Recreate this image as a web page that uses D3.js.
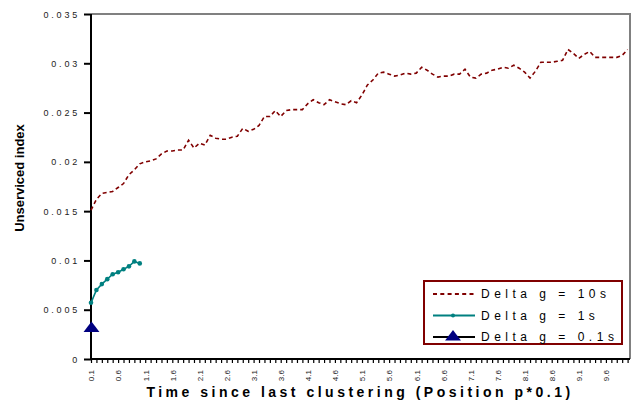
<!DOCTYPE html>
<html>
<head>
<meta charset="utf-8">
<script src="https://cdn.jsdelivr.net/npm/d3@7/dist/d3.min.js"></script>
<style>
  html, body { margin: 0; padding: 0; background: #fff; }
  svg { display: block; font-family: "Liberation Sans", Arial, sans-serif; }
</style>
</head>
<body>
<svg id="chart" width="634" height="406"></svg>
<script>
// Elapsed time since last clustering (position p*0.1)
const categories = [
  "0.1","0.2","0.3","0.4","0.5","0.6","0.7","0.8","0.9","1.0",
  "1.1","1.2","1.3","1.4","1.5","1.6","1.7","1.8","1.9","2.0",
  "2.1","2.2","2.3","2.4","2.5","2.6","2.7","2.8","2.9","3.0",
  "3.1","3.2","3.3","3.4","3.5","3.6","3.7","3.8","3.9","4.0",
  "4.1","4.2","4.3","4.4","4.5","4.6","4.7","4.8","4.9","5.0",
  "5.1","5.2","5.3","5.4","5.5","5.6","5.7","5.8","5.9","6.0",
  "6.1","6.2","6.3","6.4","6.5","6.6","6.7","6.8","6.9","7.0",
  "7.1","7.2","7.3","7.4","7.5","7.6","7.7","7.8","7.9","8.0",
  "8.1","8.2","8.3","8.4","8.5","8.6","8.7","8.8","8.9","9.0",
  "9.1","9.2","9.3","9.4","9.5","9.6","9.7","9.8","9.9","10.0"
];

// Unserviced index, Delta g = 10s
const delta10s = [
  0.0151,0.0162,0.0168,0.0169,0.0170,0.0174,0.0178,0.0187,0.0192,0.0198,
  0.0200,0.0201,0.0203,0.0208,0.0211,0.0211,0.0212,0.0212,0.0222,0.0214,
  0.0219,0.0217,0.0227,0.0224,0.0223,0.0223,0.0225,0.0226,0.0234,0.0231,
  0.0233,0.0237,0.0246,0.0246,0.0252,0.0246,0.0252,0.0253,0.0253,0.0253,
  0.0259,0.0263,0.0260,0.0258,0.0263,0.0261,0.0259,0.0258,0.0262,0.0260,
  0.0268,0.0278,0.0283,0.0290,0.0291,0.0289,0.0287,0.0288,0.0290,0.0289,
  0.0290,0.0296,0.0293,0.0289,0.0286,0.0287,0.0287,0.0289,0.0289,0.0294,
  0.0286,0.0285,0.0289,0.0290,0.0293,0.0294,0.0296,0.0295,0.0298,0.0295,
  0.0291,0.0285,0.0292,0.0301,0.0301,0.0301,0.0302,0.0303,0.0314,0.0310,
  0.0305,0.0309,0.0312,0.0306,0.0306,0.0306,0.0306,0.0306,0.0308,0.0314
];

// Unserviced index, Delta g = 1s
const delta1s = [0.0057,0.0070,0.0076,0.0081,0.0086,0.0088,0.0091,0.0094,0.0099,0.0097];

// Unserviced index, Delta g = 0.1s
const delta01s = [0.0031];

const yTicks = [0, 0.005, 0.01, 0.015, 0.02, 0.025, 0.03, 0.035];
const yTickLabels = ["0", "0.005", "0.01", "0.015", "0.02", "0.025", "0.03", "0.035"];
const xTickLabels = ["0.1","0.6","1.1","1.6","2.1","2.6","3.1","3.6","4.1","4.6",
                     "5.1","5.6","6.1","6.6","7.1","7.6","8.1","8.6","9.1","9.6"];

const seriesNames = ["Delta g = 10s", "Delta g = 1s", "Delta g = 0.1s"];

const svg = d3.select("#chart");
const plot = { left: 91, right: 630, top: 14, bottom: 359 };

const x = d3.scalePoint().domain(categories).range([plot.left, 627.6]);
const y = d3.scaleLinear().domain([0, 0.035]).range([plot.bottom, plot.top]);

// plot area frame (top and right edges)
svg.append("path")
  .attr("d", `M${plot.left},${plot.top}H${plot.right}V${plot.bottom}`)
  .attr("fill", "none").attr("stroke", "#808080").attr("stroke-width", 2);

// y axis
const yAxis = svg.append("g")
  .attr("transform", `translate(${plot.left},0)`)
  .call(d3.axisLeft(y).tickValues(yTicks).tickSize(7).tickPadding(0)
        .tickFormat((d, i) => yTickLabels[i]));
yAxis.select(".domain").attr("stroke", "#000").attr("stroke-width", 2)
  .attr("d", `M0,${plot.top}V${plot.bottom + 1}`);
yAxis.selectAll(".tick line").attr("stroke", "#000").attr("stroke-width", 2);
yAxis.selectAll(".tick text")
  .attr("x", -11).attr("dy", "0.34em")
  .style("font-size", "9px").style("letter-spacing", "2.8px")
  .attr("fill", "#222");

// x axis with a tick at every category
const labelSet = new Set(xTickLabels);
const xAxis = svg.append("g")
  .attr("transform", `translate(0,${plot.bottom})`)
  .call(d3.axisBottom(x).tickSize(4).tickPadding(0)
        .tickFormat(d => labelSet.has(d) ? d : ""));
xAxis.select(".domain").attr("stroke", "#000").attr("stroke-width", 2)
  .attr("d", `M${plot.left - 1},0H${plot.right}`);
xAxis.selectAll(".tick line").attr("stroke", "#000").attr("stroke-width", 1.2);
xAxis.selectAll(".tick text")
  .attr("transform", "rotate(-90)")
  .attr("x", -11).attr("y", 0).attr("dy", "0.35em")
  .attr("text-anchor", "end")
  .style("font-size", "8px").attr("fill", "#222");

// series
const line = d3.line().x((d, i) => x(categories[i])).y(d => y(d));

svg.append("path").datum(delta10s)
  .attr("d", line).attr("fill", "none")
  .attr("stroke", "#800000").attr("stroke-width", 1.6)
  .attr("stroke-dasharray", "4,3");

svg.append("path").datum(delta1s)
  .attr("d", line).attr("fill", "none")
  .attr("stroke", "#008080").attr("stroke-width", 1.6);
svg.selectAll(".m1").data(delta1s).enter().append("circle")
  .attr("cx", (d, i) => x(categories[i])).attr("cy", d => y(d))
  .attr("r", 2.3).attr("fill", "#008080");

const tri = d3.symbol().type(d3.symbolTriangle).size(70);
svg.selectAll(".m01").data(delta01s).enter().append("path")
  .attr("d", tri)
  .attr("transform", (d, i) => `translate(${x(categories[i]) + 0.5},${y(d)}) scale(1.25,0.95)`)
  .attr("fill", "#000080");

// axis titles
svg.append("text")
  .attr("x", 360).attr("y", 397).attr("text-anchor", "middle")
  .style("font-size", "14px").style("font-weight", "bold").style("letter-spacing", "3.5px")
  .text("Time since last clustering (Position p*0.1)");

svg.append("text")
  .attr("transform", "translate(24,178) rotate(-90)")
  .attr("text-anchor", "middle")
  .style("font-size", "13px").style("font-weight", "bold")
  .text("Unserviced index");

// legend
const lg = svg.append("g");
lg.append("rect").attr("x", 424).attr("y", 281).attr("width", 198).attr("height", 63)
  .attr("fill", "#fff").attr("stroke", "#800000").attr("stroke-width", 2);
const rowsY = [294, 315.5, 337];
const styles = [
  { stroke: "#800000", dash: "4,3.3" },
  { stroke: "#008080", dash: null },
  { stroke: "#000", dash: null }
];
seriesNames.forEach((name, i) => {
  lg.append("line").attr("x1", 433).attr("x2", 475)
    .attr("y1", rowsY[i]).attr("y2", rowsY[i])
    .attr("stroke", styles[i].stroke).attr("stroke-width", 2)
    .attr("stroke-dasharray", styles[i].dash);
  lg.append("text").attr("x", 481).attr("y", rowsY[i] + 4)
    .style("font-size", "12px").style("letter-spacing", "4.5px")
    .text(name);
});
lg.append("circle").attr("cx", 453).attr("cy", rowsY[1]).attr("r", 2).attr("fill", "#008080");
lg.append("path").attr("d", tri)
  .attr("transform", `translate(453,${rowsY[2]}) scale(1.25,0.95)`)
  .attr("fill", "#000080");
</script>
</body>
</html>
